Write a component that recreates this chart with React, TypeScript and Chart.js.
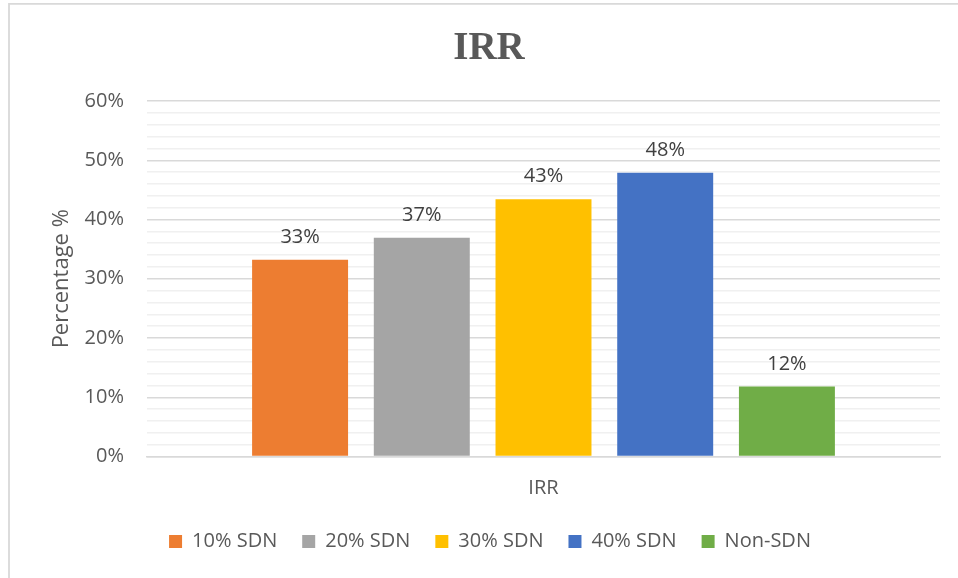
import React, { useEffect, useRef } from "react";
import { Chart, registerables } from "chart.js";

Chart.register(...registerables);

const categories = ["IRR"];
const seriesNames = ["10% SDN", "20% SDN", "30% SDN", "40% SDN", "Non-SDN"];
const seriesValues = [33.2, 36.9, 43.4, 47.9, 11.8];
const seriesColors = ["#ED7D31", "#A5A5A5", "#FFC000", "#4472C4", "#70AD47"];
const yTicks = [0, 10, 20, 30, 40, 50, 60];
const chartTitle = "IRR";
const yTitle = "Percentage %";

const SANS = "'Open Sans', sans-serif";

export default function App() {
  const ref = useRef<HTMLCanvasElement | null>(null);

  useEffect(() => {
    if (!ref.current) return;

    const framePlugin = {
      id: "frame",
      beforeDraw(chart: any) {
        const ctx = chart.ctx;
        ctx.save();
        ctx.fillStyle = "#ffffff";
        ctx.fillRect(0, 0, chart.width, chart.height);
        ctx.strokeStyle = "#d9d9d9";
        ctx.lineWidth = 1.8;
        ctx.beginPath();
        ctx.moveTo(9, chart.height);
        ctx.lineTo(9, 3.9);
        ctx.lineTo(chart.width, 3.9);
        ctx.stroke();
        ctx.fillStyle = "#595959";
        ctx.font = "bold 39px 'Liberation Serif', serif";
        ctx.textAlign = "center";
        ctx.textBaseline = "alphabetic";
        ctx.fillText(chartTitle, 489, 59);
        ctx.restore();
      },
    };

    const labelPlugin = {
      id: "valueLabels",
      afterDatasetsDraw(chart: any) {
        const ctx = chart.ctx;
        ctx.save();
        ctx.fillStyle = "#404040";
        ctx.font = "20px " + SANS;
        ctx.textAlign = "center";
        ctx.textBaseline = "alphabetic";
        chart.data.datasets.forEach((ds: any, i: number) => {
          const meta = chart.getDatasetMeta(i);
          meta.data.forEach((el: any, j: number) => {
            const v = ds.data[j];
            ctx.fillText(Math.round(v) + "%", el.x, el.y - 17);
          });
        });
        ctx.restore();
      },
    };

    const chart = new Chart(ref.current, {
      type: "bar",
      data: {
        labels: categories,
        datasets: seriesNames.map((name, i) => ({
          label: name,
          data: [seriesValues[i]],
          backgroundColor: seriesColors[i],
          borderWidth: 0,
          categoryPercentage: 0.7674,
          barPercentage: 0.7885,
        })),
      },
      options: {
        responsive: false,
        animation: false,
        devicePixelRatio: 1,
        layout: { padding: { left: 40, right: 18, top: 101, bottom: 16.5 } },
        plugins: {
          title: { display: false },
          tooltip: { enabled: false },
          legend: {
            display: true,
            position: "bottom",
            labels: {
              boxWidth: 13,
              boxHeight: 13,
              padding: 25,
              color: "#595959",
              font: { family: SANS, size: 20 },
            },
          },
        },
        scales: {
          x: {
            grid: { display: false, drawTicks: false },
            border: { display: true, color: "#d9d9d9", width: 1.5 },
            ticks: {
              color: "#595959",
              padding: 20,
              font: { family: SANS, size: 20 },
            },
            afterFit(scale: any) {
              scale.height = 50;
            },
          },
          y: {
            min: 0,
            max: 60,
            border: { display: false },
            grid: {
              drawTicks: false,
              lineWidth: 1.5,
              color: (ctx: any) =>
                yTicks.includes(ctx.tick?.value) ? "#d9d9d9" : "#f0f0f0",
            },
            ticks: {
              stepSize: 2,
              autoSkip: false,
              padding: 23,
              color: "#595959",
              font: { family: SANS, size: 20 },
              callback: (v: any) => (yTicks.includes(Number(v)) ? v + "%" : ""),
            },
            title: {
              display: true,
              text: yTitle,
              color: "#595959",
              font: { family: SANS, size: 22 },
              padding: { top: 9, bottom: 0 },
            },
            afterFit(scale: any) {
              scale.width = 107;
            },
          },
        },
      },
      plugins: [framePlugin, labelPlugin],
    });

    return () => chart.destroy();
  }, []);

  return (
    <div style={{ position: "absolute", left: 0, top: 0, width: 958, height: 578, background: "#fff" }}>
      <canvas ref={ref} width={958} height={578} style={{ display: "block" }} />
    </div>
  );
}
